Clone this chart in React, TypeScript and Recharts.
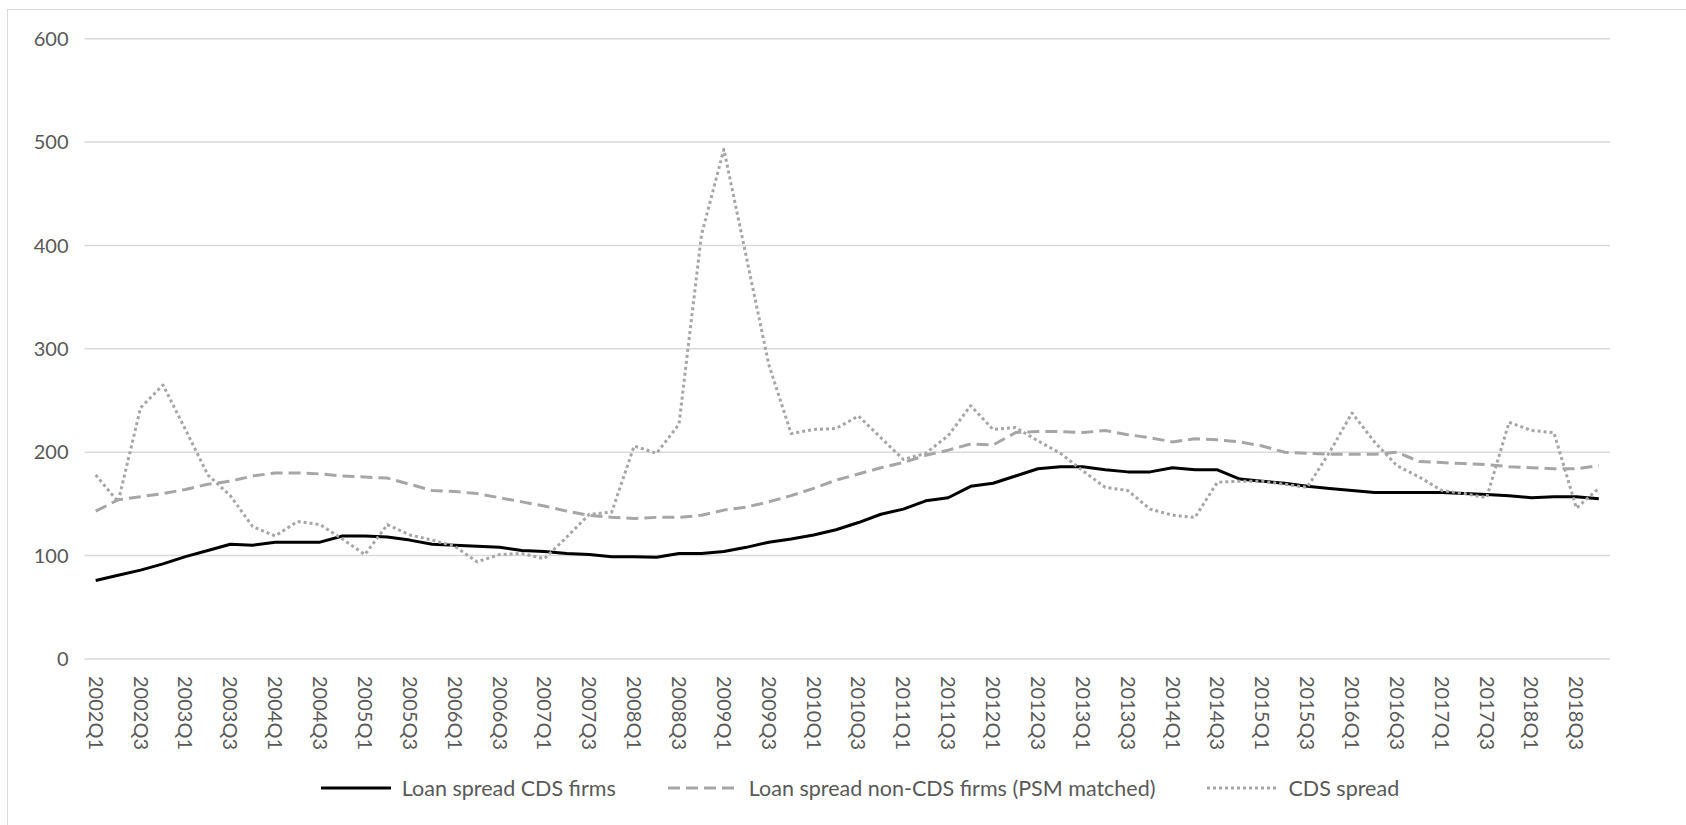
import { CartesianGrid, Line, LineChart, XAxis, YAxis } from "recharts";

const QUARTERS = [
  "2002Q1", "2002Q2", "2002Q3", "2002Q4",
  "2003Q1", "2003Q2", "2003Q3", "2003Q4",
  "2004Q1", "2004Q2", "2004Q3", "2004Q4",
  "2005Q1", "2005Q2", "2005Q3", "2005Q4",
  "2006Q1", "2006Q2", "2006Q3", "2006Q4",
  "2007Q1", "2007Q2", "2007Q3", "2007Q4",
  "2008Q1", "2008Q2", "2008Q3", "2008Q4",
  "2009Q1", "2009Q2", "2009Q3", "2009Q4",
  "2010Q1", "2010Q2", "2010Q3", "2010Q4",
  "2011Q1", "2011Q2", "2011Q3", "2011Q4",
  "2012Q1", "2012Q2", "2012Q3", "2012Q4",
  "2013Q1", "2013Q2", "2013Q3", "2013Q4",
  "2014Q1", "2014Q2", "2014Q3", "2014Q4",
  "2015Q1", "2015Q2", "2015Q3", "2015Q4",
  "2016Q1", "2016Q2", "2016Q3", "2016Q4",
  "2017Q1", "2017Q2", "2017Q3", "2017Q4",
  "2018Q1", "2018Q2", "2018Q3", "2018Q4",
];

// loan spread of firms with traded CDS
const LOAN_SPREAD_CDS = [
  76, 81, 86, 92, 99, 105, 111, 110, 113, 113, 113, 119,
  119, 118, 115, 111, 110, 109, 108, 105, 104, 102, 101, 99,
  99, 98.5, 102, 102, 104, 108, 113, 116, 120, 125, 132, 140,
  145, 153, 156, 167, 170, 177, 184, 186, 186, 183, 181, 181,
  185, 183, 183, 174, 172, 170, 167, 165, 163, 161, 161, 161,
  161, 160, 159, 158, 156, 157, 157, 155,
];

// loan spread of PSM-matched firms without CDS
const LOAN_SPREAD_NON_CDS = [
  143, 154, 157, 160, 164, 169, 172, 177, 180, 180, 179, 177,
  176, 175, 169, 163, 162, 160, 156, 152, 148, 143, 139, 137,
  136, 137, 137, 139, 144, 147, 152, 158, 165, 173, 179, 185,
  190, 197, 202, 208, 207, 219, 220, 220, 219, 221, 217, 214,
  210, 213, 212, 210, 206, 200, 199, 198, 198, 198, 200, 191,
  190, 189, 188, 186, 185, 184, 184, 187,
];

const CDS_SPREAD = [
  178, 152, 243, 265, 222, 178, 158, 128, 119, 133, 130, 116,
  101, 130, 120, 115, 109, 94, 101, 102, 97, 118, 140, 142,
  206, 199, 227, 410, 493, 389, 285, 218, 222, 223, 235, 214,
  193, 199, 216, 245, 222, 224, 211, 199, 182, 166, 163, 145,
  139, 137, 171, 172, 172, 169, 166, 200, 238, 210, 187, 176,
  163, 160, 156, 229, 221, 219, 146, 165,
];

const Y_TICKS = [0, 100, 200, 300, 400, 500, 600];

const SERIES = [
  { key: "cds", name: "Loan spread CDS firms", color: "#000000", dash: undefined, width: 3 },
  { key: "nonCds", name: "Loan spread non-CDS firms (PSM matched)", color: "#a6a6a6", dash: "12 6", width: 3 },
  { key: "cdsSpread", name: "CDS spread", color: "#a6a6a6", dash: "3 3", width: 3 },
];

const FONT = "Lato, 'Open Sans', sans-serif";
const TEXT_COLOR = "#595959";
const GRID_COLOR = "#d9d9d9";

const data = QUARTERS.map((q, i) => ({
  quarter: q,
  cds: LOAN_SPREAD_CDS[i],
  nonCds: LOAN_SPREAD_NON_CDS[i],
  cdsSpread: CDS_SPREAD[i],
}));

interface TickProps {
  x?: number;
  y?: number;
  payload?: { value: string };
}

function QuarterTick({ x = 0, y = 0, payload }: TickProps) {
  return (
    <g transform={`translate(${x},${y})`}>
      <text
        transform="rotate(90)"
        x={9}
        y={0}
        dy="0.35em"
        textAnchor="start"
        fill={TEXT_COLOR}
        fontSize={20}
        fontFamily={FONT}
      >
        {payload?.value}
      </text>
    </g>
  );
}

function LegendSample({ color, dash, width }: { color: string; dash?: string; width: number }) {
  return (
    <svg width={70} height={10} style={{ display: "block" }}>
      <line x1={0} y1={5} x2={70} y2={5} stroke={color} strokeWidth={width} strokeDasharray={dash} />
    </svg>
  );
}

export default function App() {
  return (
    <div
      style={{
        position: "fixed",
        left: 0,
        top: 0,
        width: 1686,
        height: 825,
        overflow: "hidden",
        background: "#fff",
      }}
    >
      <style>{"body{margin:0;overflow:hidden}"}</style>
      <div
        style={{
          position: "absolute",
          left: 7,
          top: 9,
          width: 1704,
          height: 840,
          border: `1.5px solid ${GRID_COLOR}`,
        }}
      />
      <div style={{ position: "absolute", left: 0, top: 0 }}>
        <LineChart
          width={1686}
          height={825}
          data={data}
          margin={{ top: 38.7, right: 76, bottom: 0, left: 24.5 }}
        >
          <CartesianGrid vertical={false} stroke={GRID_COLOR} strokeWidth={1.5} />
          <XAxis
            dataKey="quarter"
            interval={1}
            tick={<QuarterTick />}
            tickLine={false}
            axisLine={false}
            height={166}
            padding={{ left: 11.2, right: 11.2 }}
          />
          <YAxis
            domain={[0, 600]}
            ticks={Y_TICKS}
            width={60}
            tickLine={false}
            axisLine={false}
            tickMargin={10}
            tick={{ fill: TEXT_COLOR, fontSize: 20, fontFamily: FONT }}
          />
          {SERIES.map((s) => (
            <Line
              key={s.key}
              type="linear"
              dataKey={s.key}
              name={s.name}
              stroke={s.color}
              strokeWidth={s.width}
              strokeDasharray={s.dash}
              strokeLinejoin="round"
              dot={false}
              activeDot={false}
              isAnimationActive={false}
            />
          ))}
        </LineChart>
      </div>
      <div
        style={{
          position: "absolute",
          left: 8,
          width: 1704,
          top: 775,
          display: "flex",
          justifyContent: "center",
          alignItems: "center",
          gap: 52,
          fontFamily: FONT,
          fontSize: 21.5,
          color: TEXT_COLOR,
        }}
      >
        {SERIES.map((s) => (
          <div key={s.key} style={{ display: "flex", alignItems: "center", gap: 11 }}>
            <LegendSample color={s.color} dash={s.dash} width={s.width} />
            <span>{s.name}</span>
          </div>
        ))}
      </div>
    </div>
  );
}
